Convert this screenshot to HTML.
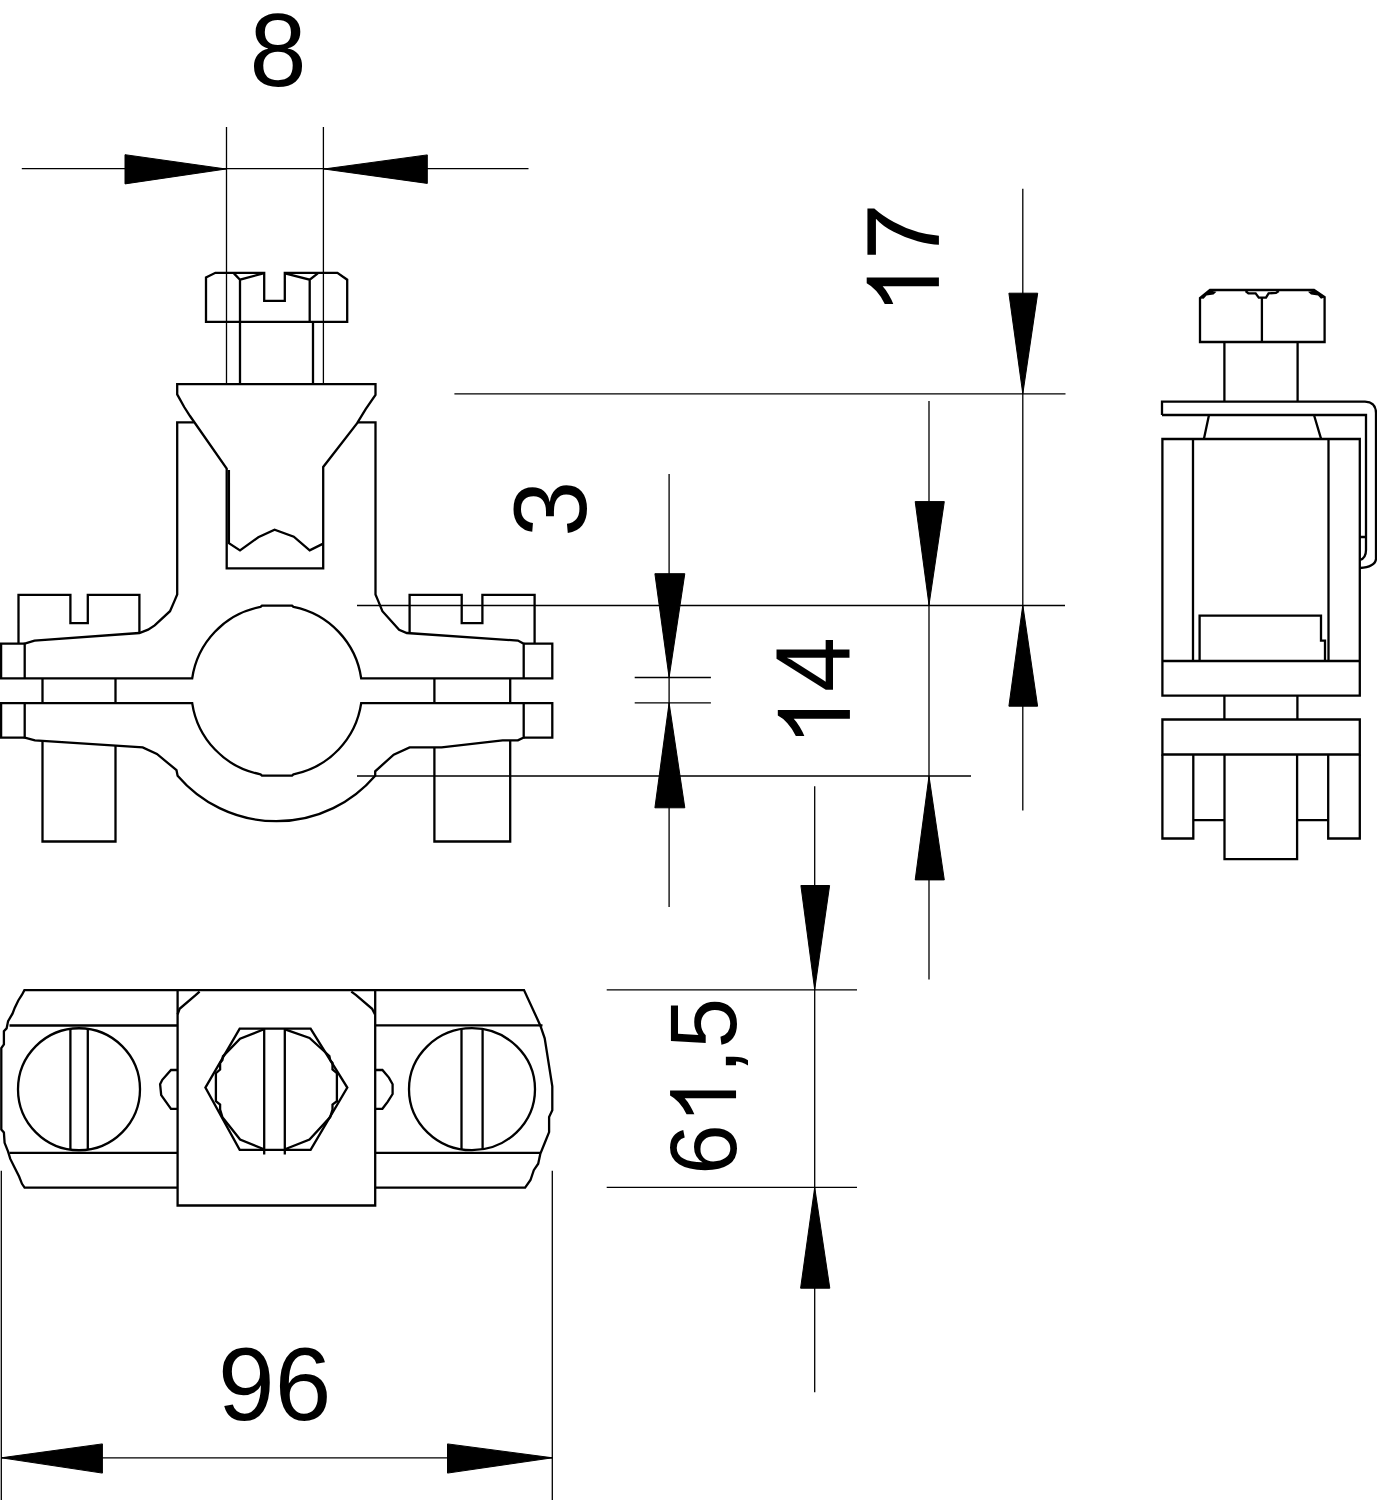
<!DOCTYPE html>
<html><head><meta charset="utf-8">
<style>
html,body{margin:0;padding:0;background:#fff;}
body{width:1377px;height:1500px;overflow:hidden;font-family:"Liberation Sans",sans-serif;}
svg{display:block;}
.k{fill:none;stroke:#000;stroke-width:2.3;stroke-linejoin:miter;stroke-linecap:butt;}
.t{fill:none;stroke:#000;stroke-width:1.3;}
.a{fill:#000;stroke:none;}
#arrows path{stroke:#000;stroke-width:1;stroke-linejoin:round;}
text{font-family:"Liberation Sans",sans-serif;font-size:100px;fill:#000;}
</style></head><body>
<svg width="1377" height="1500" viewBox="0 0 1377 1500">
<rect width="1377" height="1500" fill="#fff"/>

<!-- ===== thin dimension / extension lines ===== -->
<g class="t" id="thin">
<path d="M226.5,127V384 M323.4,127V384 M21.8,168.6H528.5"/>
<path d="M454.4,393.9H1065.5 M357,605.5H1065 M357,776H971"/>
<path d="M669.1,474V907 M634.7,677.5H710.9 M634.7,702.9H710.9"/>
<path d="M929,401V979.6 M1022.8,188.8V810.4"/>
<path d="M814.7,786.2V1392.2 M606.7,989.8H857 M606.7,1187.4H857"/>
<path d="M1.3,1170.7V1500 M552.3,1170.7V1500 M1.3,1457.8H552.5"/>
</g>

<!-- ===== arrows ===== -->
<g class="a" id="arrows">
<path d="M125,154.7V183.9L226,169Z M427.3,154.9V183.4L324,169Z"/>
<path d="M654.9,573.7H684.8L669.1,677.5Z M654.9,807.8H684.8L669.1,702.9Z"/>
<path d="M915.2,501.6H944.3L929,605Z M915.2,879.9H944.3L929,776.1Z"/>
<path d="M1008.9,293.2H1037.7L1022.8,393.9Z M1008.9,706.2H1037.6L1022.8,605Z"/>
<path d="M800.9,885.5H829.6L814.7,989.7Z M800.6,1288.2H829.8L814.7,1187.4Z"/>
<path d="M1.3,1457.8L102.4,1443.9V1473.1Z M552.5,1457.8L447.5,1443.9V1473.1Z"/>
</g>

<!-- ===== texts ===== -->
<g id="texts">
<text transform="translate(249.54,86.06) scale(1.0255,1.0389)">8</text>
<text transform="translate(218.07,1420.06) scale(1.0176,1.0403)">96</text>
<text transform="translate(586.25,536.67) rotate(-90) scale(1.0042,1.0473)">3</text>
<path class="a" transform="translate(938.9,314.86) rotate(-90) scale(0.048677,-0.049121) translate(1139,0)" d="M97,1282V1455H1046V1315Q906,1166 768.5,919Q631,672 556,411Q502,227 487,0H302Q305,179 372.5,432.5Q440,686 566.5,921.5Q693,1157 836,1282Z"/>
<path class="a" transform="translate(938.9,314.92) rotate(-90) scale(0.048965,-0.049048) translate(0.0,0)" d="M763,0H583V1147Q518,1085 412.5,1023Q307,961 223,930V1104Q374,1175 487,1276Q600,1377 647,1472H763Z"/>
<text transform="translate(849.9,746.74) rotate(-90) scale(0.9858,1.0487)" x="55.62" y="0">4</text>
<path class="a" transform="translate(849.9,746.74) rotate(-90) scale(0.048135,-0.048975) translate(0.0,0)" d="M763,0H583V1147Q518,1085 412.5,1023Q307,961 223,930V1104Q374,1175 487,1276Q600,1377 647,1472H763Z"/>
<text transform="translate(736.05,1174.74) rotate(-90) scale(0.9083,0.9498)"><tspan x="0" y="0">6</tspan><tspan x="111.24" y="0">,</tspan><tspan x="139.02" y="0">5</tspan></text>
<path class="a" transform="translate(736.05,1174.74) rotate(-90) scale(0.044351,-0.044824) translate(1139.1,0)" d="M763,0H583V1147Q518,1085 412.5,1023Q307,961 223,930V1104Q374,1175 487,1276Q600,1377 647,1472H763Z"/>
</g>

<!-- ===== FRONT VIEW ===== -->
<g class="k" id="front">
<!-- hex nut -->
<path d="M206,277.5V321.8H347.2V279.7L337.4,272.8H284.8V300.8H264.2V272.8H215.4Z"/>
<path d="M233.9,273.4L240,279.7L263.3,273.4 M240,279.7V384 M285,273.4L309.7,279.7L317.8,273.4 M309.7,279.7V321.8 M313,321.8V384"/>
<!-- cone -->
<path d="M177.2,384.2H375.5V395L365.7,409.2L357,423.4L323.2,467V568.3H226.7V468.5L190,416L184.2,407L177.2,394.4Z"/>
<path d="M228.9,470V543.2L240,550.4L258.3,537.3L274.6,529.7L293.8,536.7L309.7,550.4L323.2,543.6"/>
<!-- bracket + upper clamp -->
<path d="M193.8,422.3H177.2V594.4L174.3,601.4L170,611.2L154.7,625.4L148.1,629.7L139.4,633L34.5,640.7L24.7,643.7V678.3"/>
<path d="M357.8,422.3H375.5V594.4L378.4,601.4L382.4,611.2L399.1,629.7L406.8,633L517.9,640.6L523.7,643.7V678.3"/>
<path d="M24.7,643.7H1.1V678.3H192.2A85.3,85.3 0 0 1 260.5,606.9L262,605.6H292L293.5,606.9A85.3,85.3 0 0 1 361.2,678.3H552.3V643.7H523.7"/>
<!-- screw heads -->
<path d="M18.5,643.7V594.9H70.4V623.2H87.8V594.9H139.4V633"/>
<path d="M409.6,633V594.9H461.7V623.2H482.4V594.9H534.6V643.7"/>
<!-- bolts between -->
<path d="M42.5,678.3V703.1 M115.5,678.3V703.1 M434.4,678.3V703.1 M510.2,678.3V703.1"/>
<!-- lower clamp -->
<path d="M24.7,737.6H1.1V703.1H192.2A85.3,85.3 0 0 0 260.5,774.3L262,775.6H292L293.5,774.3A85.3,85.3 0 0 0 361.2,703.1H552.3V737.6H523.7"/>
<path d="M24.7,703.1V737.6L34.9,740.4L142.7,747.4L156.9,753.9L176.5,770.2L177.6,775.7A130,130 0 0 0 375.2,775.7V771.3L393.7,754.6L409.6,747.4H441.6L502.6,740.4H517.9L523.7,737.6V703.1"/>
<!-- bolts below -->
<path d="M42.5,741V841.5H115.5V745.6 M434.4,747.4V841.5H510.2V740.4"/>
</g>

<!-- ===== TOP VIEW ===== -->
<g class="k" id="top">
<path d="M177.6,990.1H24.4L22,994.7L18.3,1000.5L14.7,1007.9L12.5,1013.7L8.1,1021.1L6.6,1028.4L3.9,1031.3V1044.5L1.3,1048.2V1129.6L3.9,1132.5L4.6,1142.8L8.1,1151.6L10.3,1158.9L14.7,1167.7L19.1,1176.5L22,1183.8L24.6,1187.7H177.6"/>
<path d="M9.5,1025.5H177.6 M9.5,1152.9H177.6"/>
<circle cx="79" cy="1089.25" r="61"/>
<path d="M70.4,1028.4V1149.6 M87.8,1028.4V1149.6"/>
<path d="M177.6,1070H171L162.3,1079.8L160.1,1084.2L161.2,1095.1L171,1108.8H177.6"/>
<!-- centre bracket -->
<path d="M177.6,990.1H375.2V1205.5H177.6Z"/>
<path d="M177.6,1014.3L179.6,1008.8L195.6,995.2L199.6,991.6 M351.3,991.6L356.1,995.2L372.1,1008.8L374.9,1014.3"/>
<!-- hex -->
<path d="M205.4,1087.6L239.7,1028.6H310.6L347.3,1087.6L310.6,1149.8H239.7Z"/>
<path d="M264,1029.3L240.1,1038.7L222.9,1056.4L222.4,1060.1L220.1,1063V1069.5L215.9,1073.2V1101.2L220.1,1104.5V1109.6L222.4,1117.1L240.1,1139.5L264,1149.3 M285,1029.3L309.5,1038L329.4,1056L330.2,1060.1L332.5,1063V1069.5L336.9,1073.2V1101.2L332.5,1104.5V1109.6L330.2,1117.1L309.5,1139.5L285,1149.3"/>
<path d="M264.2,1028.6V1154.5 M284.8,1028.6V1154.5"/>
<!-- right section -->
<path d="M375.2,990.1H524L540.3,1025.4L544.7,1038.4L552.3,1086.4V1110.3L549.1,1116.9V1132.1L544.7,1143L540.3,1153.9L538.2,1163.7L533.8,1170.2L530.5,1180L525.1,1187.7H375.2"/>
<path d="M375.2,1025.4H542.5 M375.2,1152.8H540.3"/>
<ellipse cx="472" cy="1089.2" rx="63" ry="61"/>
<path d="M461.5,1028.4V1150 M482.6,1028.4V1150"/>
<path d="M375.2,1070H382.4L388.9,1077.6L392.6,1084.2V1094L387.8,1101.6L382.4,1108.8H375.2"/>
</g>

<!-- ===== SIDE VIEW ===== -->
<g class="k" id="side">
<path d="M1200,298V342H1324.6V297L1314,290H1210Z"/>
<path d="M1261.9,297V342"/>
<path d="M1224.4,342V401.6 M1297.6,342V401.6"/>
<path d="M1162,415V401.6H1365Q1376,402 1376,413V559Q1375,567 1360,568"/>
<path d="M1162,415H1366V550Q1366,558 1360,560 M1360,537H1366"/>
<path d="M1209,415L1204,438.6 M1314,415L1321,438.6"/>
<path d="M1162.4,439H1359.8V695.6H1162.4Z M1162.4,661H1359.8"/>
<path d="M1193,439V661 M1328.5,439V661"/>
<path d="M1199.6,661V615.6H1321V640.6H1325V661"/>
<path d="M1224.4,695.6V719.5 M1297.4,695.6V719.5"/>
<path d="M1162.4,719.5H1359.8V754.5H1162.4Z"/>
<path d="M1162.4,754.5V838.5H1193.3V754.5 M1328.2,754.5V838.5H1359.8V754.5"/>
<path d="M1224.5,754.5V859.2H1297.1V754.5 M1193.3,820.2H1224.5 M1297.1,820.2H1328.2"/>
</g>
<g id="sidedetail">
<path class="k" d="M1245.6,291L1248.4,293.3H1255.6L1258.8,297.6H1266L1268.6,293.3L1276,292.9L1278.8,291"/>
<path class="a" d="M1200.4,298.4L1209.6,290.4L1216.5,291.8L1213.5,294.4L1206.5,295.4L1203.6,298.8Z M1324.4,297.6L1314.7,290.4L1308,291.8L1311,294.4L1318,295.4L1321,298.8Z"/>
</g>
</svg>
</body></html>
